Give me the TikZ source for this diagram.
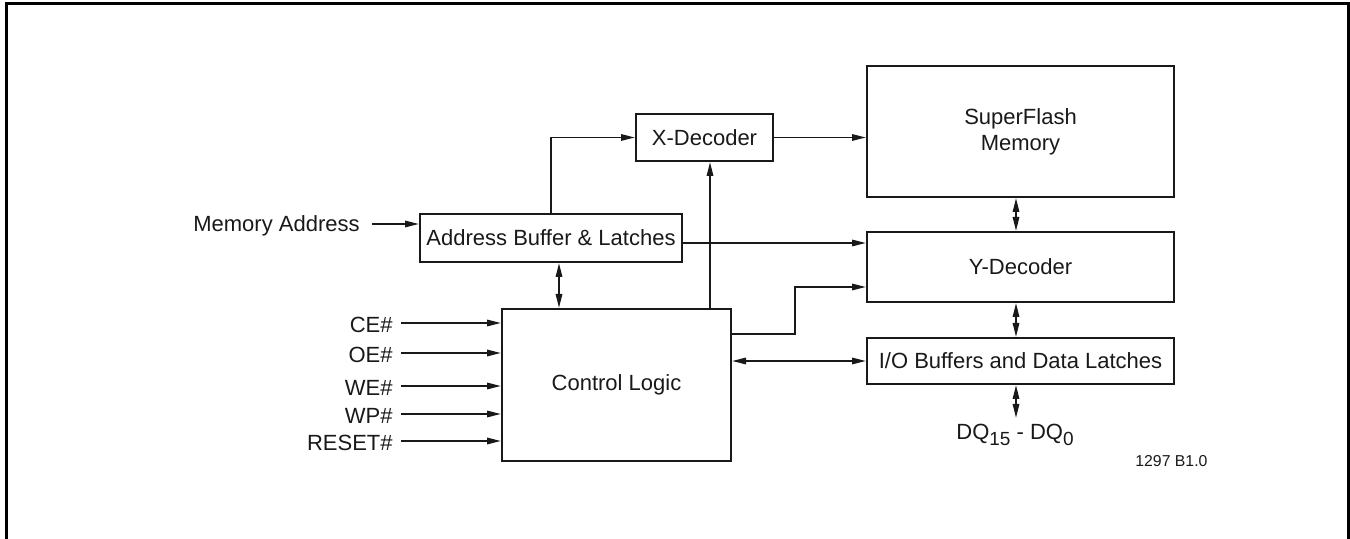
\documentclass[tikz,border=0pt]{standalone}
\usepackage{fontspec}
\setmainfont{Liberation Sans}
\usetikzlibrary{arrows.meta}
\begin{document}
\begin{tikzpicture}[x=0.5pt,y=-0.5pt,
  box/.style={draw=black!90, line width=1pt, inner sep=0pt, font=\fontsize{11}{13}\selectfont, align=center, text=black!90},
  lbl/.style={inner sep=0pt, font=\fontsize{11}{13}\selectfont, text=black!90},
  conn/.style={draw=black!90, line width=0.85pt, -{Triangle[length=7pt,width=3.2pt]}},
  bconn/.style={draw=black!90, line width=0.85pt, {Triangle[length=7pt,width=3.2pt]}-{Triangle[length=7pt,width=3.2pt]}},
]
\useasboundingbox (0,0) rectangle (1350,539);
% outer frame
\draw[line width=1.5pt, black] (6,541) -- (6,4) -- (1348,4) -- (1348,541);

% boxes
\node[box, minimum width=68.5pt, minimum height=23.5pt] (xdec) at (704.5,137.5) {X-Decoder};
\node[box, minimum width=153.5pt, minimum height=65.5pt] (mem) at (1020.5,131.5) {SuperFlash\\Memory};
\node[box, minimum width=153.5pt, minimum height=35pt] (ydec) at (1020.5,267) {Y-Decoder};
\node[box, minimum width=153.5pt, minimum height=23pt] (io) at (1020.5,361) {I/O Buffers and Data Latches};
\node[box, minimum width=131pt, minimum height=24pt] (addr) at (551,238) {Address Buffer \& Latches};
\node[box, minimum width=114.5pt, minimum height=76pt] (ctrl) at (616.5,385) {Control Logic};

% labels
\node[lbl, anchor=base east] (ma) at (360,232) {Memory Address};
\node[lbl, anchor=base east] (ce) at (393,332.5) {CE\#};
\node[lbl, anchor=base east] (oe) at (393,362.5) {OE\#};
\node[lbl, anchor=base east] (we) at (393,395.5) {WE\#};
\node[lbl, anchor=base east] (wp) at (393,423.5) {WP\#};
\node[lbl, anchor=base east] (rs) at (393,450.5) {RESET\#};
\node[lbl, anchor=base] (dq) at (1015,440) {DQ\raisebox{-0.45ex}{\fontsize{9.5}{10}\selectfont 15} - DQ\raisebox{-0.45ex}{\fontsize{9.5}{10}\selectfont 0}};
\node[inner sep=0pt, anchor=base west, font=\fontsize{7.9}{9}\selectfont, text=black!90] (ref) at (1135,466.5) {1297 B1.0};

% helper coordinates
\coordinate (maA) at (372,224);
\coordinate (ceA) at (401,323);
\coordinate (oeA) at (401,353);
\coordinate (weA) at (401,386);
\coordinate (wpA) at (401,414);
\coordinate (rsA) at (401,441);
\coordinate (ax) at (559,0);
\coordinate (cx) at (710,0);
\coordinate (vx) at (1016,0);
\coordinate (ay) at (0,243);
\coordinate (cy1) at (795,334);
\coordinate (cy2) at (795,287);
\coordinate (dqA) at (1016,418);

% connectors
\draw[conn] (maA) -- (addr.west |- maA);
\draw[conn] (ceA) -- (ctrl.west |- ceA);
\draw[conn] (oeA) -- (ctrl.west |- oeA);
\draw[conn] (weA) -- (ctrl.west |- weA);
\draw[conn] (wpA) -- (ctrl.west |- wpA);
\draw[conn] (rsA) -- (ctrl.west |- rsA);
\draw[conn] (addr.north) |- (xdec.west);
\draw[conn] (xdec.east) -- (mem.west |- xdec.east);
\draw[conn] (addr.east |- ay) -- (ydec.west |- ay);
\draw[bconn] (addr.south -| ax) -- (ctrl.north -| ax);
\draw[conn] (ctrl.north -| cx) -- (xdec.south -| cx);
\draw[conn] (ctrl.east |- cy1) -- (cy1) -- (cy2) -- (ydec.west |- cy2);
\draw[bconn] (ctrl.east |- io.west) -- (io.west);
\draw[bconn] (mem.south -| vx) -- (ydec.north -| vx);
\draw[bconn] (ydec.south -| vx) -- (io.north -| vx);
\draw[bconn] (io.south -| vx) -- (dqA);
\end{tikzpicture}
\end{document}
